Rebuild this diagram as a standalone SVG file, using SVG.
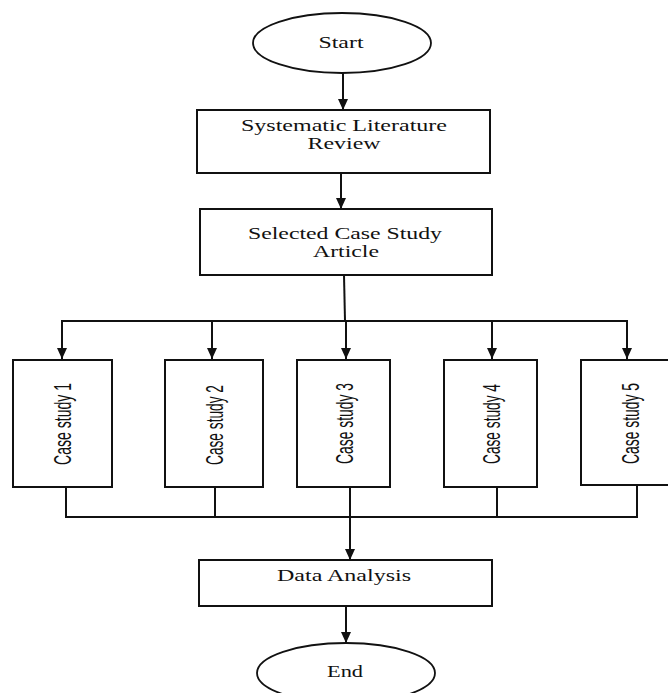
<svg xmlns="http://www.w3.org/2000/svg" width="668" height="693" viewBox="0 0 668 693">
<style>
.box{fill:#fff;stroke:#111;stroke-width:2}
.term{fill:#fff;stroke:#111;stroke-width:1.8}
.ln{fill:none;stroke:#111;stroke-width:2}
.ar{fill:none;stroke:#111;stroke-width:2;marker-end:url(#ah)}
.t{font-family:"Liberation Serif","Times New Roman",serif;font-size:16px;fill:#111;text-anchor:middle}
.c{font-family:"Liberation Sans Narrow","Arial Narrow","Liberation Sans",sans-serif;font-size:24px;fill:#111;text-anchor:middle}
</style>
<defs>
<marker id="ah" markerUnits="userSpaceOnUse" markerWidth="12" markerHeight="12" viewBox="0 0 12 12" refX="11" refY="6" orient="auto">
<path d="M0,1 L11,6 L0,11 Z" fill="#111"/>
</marker>
</defs>
<rect width="668" height="693" fill="#fff"/>
<g id="connectors">
<line class="ar" x1="343" y1="73" x2="343" y2="110"/>
<line class="ar" x1="341" y1="173" x2="341" y2="209"/>
<line class="ln" x1="344" y1="275" x2="345" y2="321"/>
<line class="ln" x1="61" y1="321" x2="628" y2="321"/>
<line class="ar" x1="62" y1="321" x2="62" y2="359"/>
<line class="ar" x1="212" y1="321" x2="212" y2="359"/>
<line class="ar" x1="346" y1="321" x2="346" y2="359"/>
<line class="ar" x1="492" y1="321" x2="492" y2="359"/>
<line class="ar" x1="627" y1="321" x2="627" y2="359"/>
<line class="ln" x1="66" y1="487" x2="66" y2="517"/>
<line class="ln" x1="215" y1="487" x2="215" y2="517"/>
<line class="ln" x1="350" y1="487" x2="350" y2="517"/>
<line class="ln" x1="497" y1="487" x2="497" y2="517"/>
<line class="ln" x1="637" y1="485" x2="637" y2="517"/>
<line class="ln" x1="65" y1="517" x2="638" y2="517"/>
<line class="ar" x1="350" y1="517" x2="350" y2="560"/>
<line class="ar" x1="346" y1="606" x2="346" y2="643"/>
</g>
<g id="start">
<ellipse class="term" cx="342" cy="43" rx="89" ry="30"/>
<text class="t" x="341" y="48" textLength="45" lengthAdjust="spacingAndGlyphs">Start</text>
</g>
<g id="slr">
<rect class="box" x="197" y="110" width="293" height="63"/>
<text class="t" x="344" y="131" textLength="206" lengthAdjust="spacingAndGlyphs">Systematic Literature</text>
<text class="t" x="344" y="149" textLength="73" lengthAdjust="spacingAndGlyphs">Review</text>
</g>
<g id="selected">
<rect class="box" x="200" y="209" width="292" height="66"/>
<text class="t" x="345" y="239" textLength="194" lengthAdjust="spacingAndGlyphs">Selected Case Study</text>
<text class="t" x="346" y="257" textLength="66" lengthAdjust="spacingAndGlyphs">Article</text>
</g>
<g id="case1">
<rect class="box" x="13" y="360" width="99" height="127"/>
<text class="c" transform="translate(71,424) rotate(-90)" textLength="82" lengthAdjust="spacingAndGlyphs">Case study 1</text>
</g>
<g id="case2">
<rect class="box" x="165" y="360" width="98" height="127"/>
<text class="c" transform="translate(223,425) rotate(-90)" textLength="80" lengthAdjust="spacingAndGlyphs">Case study 2</text>
</g>
<g id="case3">
<rect class="box" x="297" y="360" width="93" height="127"/>
<text class="c" transform="translate(353,423.5) rotate(-90)" textLength="81" lengthAdjust="spacingAndGlyphs">Case study 3</text>
</g>
<g id="case4">
<rect class="box" x="444" y="360" width="93" height="127"/>
<text class="c" transform="translate(500,424) rotate(-90)" textLength="80" lengthAdjust="spacingAndGlyphs">Case study 4</text>
</g>
<g id="case5">
<rect class="box" x="581" y="360" width="99" height="125"/>
<text class="c" transform="translate(639,423.5) rotate(-90)" textLength="81" lengthAdjust="spacingAndGlyphs">Case study 5</text>
</g>
<g id="analysis">
<rect class="box" x="199" y="560" width="293" height="46"/>
<text class="t" x="344" y="581" textLength="134" lengthAdjust="spacingAndGlyphs">Data Analysis</text>
</g>
<g id="end">
<ellipse class="term" cx="346" cy="673" rx="89" ry="30"/>
<text class="t" x="345" y="677" textLength="36" lengthAdjust="spacingAndGlyphs">End</text>
</g>
</svg>
